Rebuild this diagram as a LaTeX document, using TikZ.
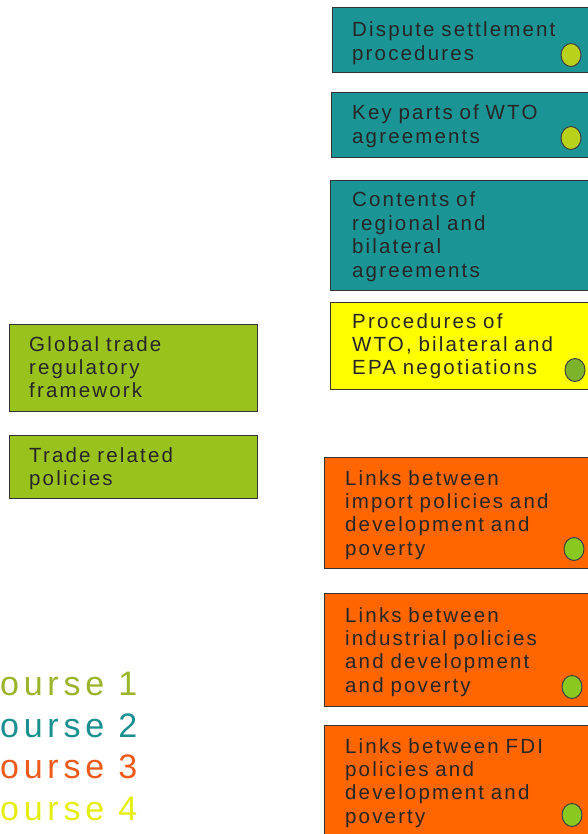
\documentclass[tikz,border=0pt]{standalone}
\usepackage{fontspec}
\setmainfont{Liberation Sans}
\definecolor{tealbox}{HTML}{1A9494}
\definecolor{greenbox}{HTML}{99C21C}
\definecolor{yellowbox}{HTML}{FFFF00}
\definecolor{orangebox}{HTML}{FF6600}
\definecolor{dotlime}{HTML}{B8D21A}
\definecolor{dotolive}{HTML}{7CB32A}
\definecolor{dotgreen}{HTML}{88C81F}
\definecolor{keyone}{HTML}{9AB52A}
\definecolor{keytwo}{HTML}{1A8F8F}
\definecolor{keythree}{HTML}{EE5A1A}
\definecolor{keyfour}{HTML}{E6EE10}
\tikzset{
  box/.style={draw=black!80, line width=1.2pt, anchor=north west, inner sep=0pt},
  boxtext/.style={anchor=base west, inner sep=0pt, text width=240pt, align=left,
    text=black!85, font={\fontsize{20.5}{23.4}\selectfont\addfontfeature{LetterSpace=10.5}}},
  dot/.style={draw=black!75, line width=1pt, ellipse, minimum width=20pt, minimum height=23pt, inner sep=0pt},
  key/.style={anchor=base west, inner sep=0pt, font={\fontsize{34}{34}\selectfont\addfontfeature{LetterSpace=14}}}
}
\usetikzlibrary{shapes.geometric}
\begin{document}
\begin{tikzpicture}[x=1pt, y=-1pt]
    \useasboundingbox (0,0) rectangle (588,834);
    \clip (0,0) rectangle (588,834);

    % right column
    \node[box, fill=tealbox, minimum width=280pt, minimum height=65pt] (dispute) at (332,7) {};
    \node[box, fill=tealbox, minimum width=280pt, minimum height=65pt] (keyparts) at (331,92) {};
    \node[box, fill=tealbox, minimum width=280pt, minimum height=110pt] (contents) at (330,180) {};
    \node[box, fill=yellowbox, minimum width=280pt, minimum height=87pt] (procedures) at (330,302) {};
    \node[box, fill=orangebox, minimum width=280pt, minimum height=111pt] (import) at (324,457) {};
    \node[box, fill=orangebox, minimum width=280pt, minimum height=113pt] (industrial) at (324,593) {};
    \node[box, fill=orangebox, minimum width=280pt, minimum height=120pt] (fdi) at (324,725) {};

    \node[boxtext] (dispute-t) at (352,37) {Dispute settlement\\procedures};
    \node[boxtext] (keyparts-t) at (352,120) {Key parts of WTO\\agreements};
    \node[boxtext] (contents-t) at (352,207) {Contents of\\regional and\\bilateral\\agreements};
    \node[boxtext] (procedures-t) at (352,328) {Procedures of\\WTO, bilateral and\\EPA negotiations};
    \node[boxtext] (import-t) at (345,485) {Links between\\import policies and\\development and\\poverty};
    \node[boxtext] (industrial-t) at (345,622) {Links between\\industrial policies\\and development\\and poverty};
    \node[boxtext] (fdi-t) at (345,753) {Links between FDI\\policies and\\development and\\poverty};

    \node[dot, fill=dotlime] (dispute-d) at (571,55) {};
    \node[dot, fill=dotlime] (keyparts-d) at (571,138) {};
    \node[dot, fill=dotolive] (procedures-d) at (575,370) {};
    \node[dot, fill=dotgreen] (import-d) at (574,549) {};
    \node[dot, fill=dotgreen] (industrial-d) at (572,687) {};
    \node[dot, fill=dotgreen] (fdi-d) at (572,815) {};

    % left column
    \node[box, fill=greenbox, minimum width=248pt, minimum height=87pt] (global) at (9,324) {};
    \node[box, fill=greenbox, minimum width=248pt, minimum height=63pt] (trade) at (9,435) {};
    \node[boxtext] (global-t) at (29,351) {Global trade\\regulatory\\framework};
    \node[boxtext] (trade-t) at (29,462) {Trade related\\policies};

    % key
    \node[key, text=keyone] (key1) at (0,695) {ourse 1};
    \node[key, text=keytwo] (key2) at (0,737) {ourse 2};
    \node[key, text=keythree] (key3) at (0,778) {ourse 3};
    \node[key, text=keyfour] (key4) at (0,820) {ourse 4};
\end{tikzpicture}
\end{document}
